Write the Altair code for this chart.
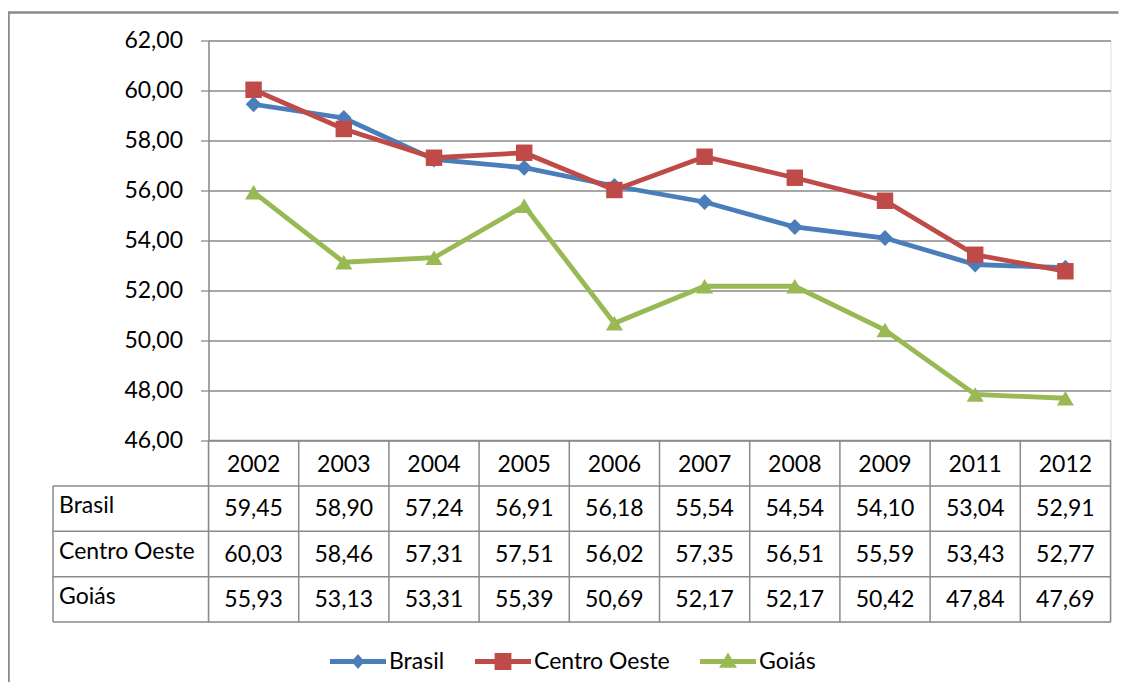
import altair as alt
import pandas as pd

# ---------------- data ----------------
years = ["2002", "2003", "2004", "2005", "2006", "2007", "2008", "2009", "2011", "2012"]
series = ["Brasil", "Centro Oeste", "Goiás"]
brasil = [59.45, 58.90, 57.24, 56.91, 56.18, 55.54, 54.54, 54.10, 53.04, 52.91]
centro_oeste = [60.03, 58.46, 57.31, 57.51, 56.02, 57.35, 56.51, 55.59, 53.43, 52.77]
goias = [55.93, 53.13, 53.31, 55.39, 50.69, 52.17, 52.17, 50.42, 47.84, 47.69]
y_ticks = [46, 48, 50, 52, 54, 56, 58, 60, 62]

# ---------------- styles / layout ----------------
colors = ["#4a7ebb", "#be4b48", "#98b954"]
GRAY = "#8a8a8a"
FONT = "Lato"
FS = 23
W, H_PLOT, H = 902, 400, 581.5
LABEL_COL = -1.724   # left border of the table's label column (in column units)
LABEL_TXT = -1.657   # start of the row labels (in column units)

legend_paths = [
    "M-1,-0.085 L1,-0.085 L1,0.085 L-1,0.085 Z M-0.23,0 L0,-0.27 L0.23,0 L0,0.27 Z",
    "M-1,-0.085 L1,-0.085 L1,0.085 L-1,0.085 Z M-0.3,-0.3 L0.3,-0.3 L0.3,0.3 L-0.3,0.3 Z",
    "M-1,-0.085 L1,-0.085 L1,0.085 L-1,0.085 Z M0,-0.32 L0.32,0.22 L-0.32,0.22 Z",
]

values_by_series = [brasil, centro_oeste, goias]

def fmt(v):
    return f"{v:.2f}".replace(".", ",")

rows = []
for s, vals in zip(series, values_by_series):
    for i, (yr, v) in enumerate(zip(years, vals)):
        rows.append({"series": s, "year": yr, "xc": i + 0.5, "value": v})
df_lines = pd.DataFrame(rows)

cells = []
for i, yr in enumerate(years):
    cells.append({"text": yr, "xc": i + 0.5, "row": 0.55})
for r, vals in enumerate(values_by_series, start=1):
    for i, v in enumerate(vals):
        cells.append({"text": fmt(v), "xc": i + 0.5, "row": r + 0.52})
df_cells = pd.DataFrame(cells)

df_rowlab = pd.DataFrame({"text": series, "xc": [LABEL_TXT] * 3,
                          "row": [1.45, 2.45, 3.45]})

vl = [{"x": i, "y0": 0, "y1": 4} for i in range(11)]
vl.append({"x": LABEL_COL, "y0": 1, "y1": 4})
df_vlines = pd.DataFrame(vl)
hl = [{"y": r, "x0": (0 if r == 0 else LABEL_COL), "x1": 10} for r in range(5)]
df_hlines = pd.DataFrame(hl)

# ---------------- scales ----------------
xscale = alt.Scale(domain=[0, 10], nice=False, zero=False)
yscale = alt.Scale(domain=[46, 62], range=[H_PLOT, 0], nice=False, zero=False)
tscale = alt.Scale(domain=[0, 4], range=[H_PLOT, H], nice=False, zero=False)

def cscale():
    return alt.Scale(domain=series, range=colors)

yaxis = alt.Axis(values=y_ticks,
                 labelExpr="replace(format(datum.value, '.2f'), '.', ',')",
                 grid=True, gridColor=GRAY, gridWidth=1.3,
                 domainColor=GRAY, domainWidth=1.5,
                 tickColor=GRAY, tickSize=8, tickWidth=1.3,
                 labelFont=FONT, labelFontSize=FS, labelColor="black",
                 labelPadding=18, title=None)

X = alt.X("xc:Q", scale=xscale, axis=None)
Y = alt.Y("value:Q", scale=yscale, axis=yaxis)

base = alt.Chart(df_lines)

lines = base.mark_line(strokeWidth=4.8).encode(
    x=X, y=Y, color=alt.Color("series:N", scale=cscale(), legend=None))

markers = base.mark_point(filled=True, opacity=1, strokeWidth=0).encode(
    x=X, y=Y,
    color=alt.Color("series:N", scale=cscale(), legend=None),
    shape=alt.Shape("series:N", scale=alt.Scale(domain=series,
                    range=["diamond", "square", "triangle-up"]), legend=None),
    size=alt.Size("series:N", scale=alt.Scale(domain=series, range=[250, 290, 340]),
                  legend=None),
)

leg = alt.Legend(orient="none", legendX=121.5, legendY=593, direction="horizontal",
                 title=None, labelFont=FONT, labelFontSize=FS, labelColor="black",
                 symbolSize=3136, symbolStrokeWidth=0, symbolOpacity=1,
                 labelOffset=3, columnPadding=30, padding=0)

legend_layer = base.mark_point(filled=True, opacity=0, size=3136).encode(
    x=X, y=Y,
    color=alt.Color("series:N", scale=cscale(), legend=leg),
    shape=alt.Shape("series:N", scale=alt.Scale(domain=series, range=legend_paths),
                    legend=leg),
)

plot = alt.layer(lines, markers, legend_layer).resolve_scale(
    shape="independent", color="independent", size="independent")

# ---------------- table ----------------
vrules = alt.Chart(df_vlines).mark_rule(color=GRAY, strokeWidth=1.5).encode(
    x=alt.X("x:Q", scale=xscale, axis=None),
    y=alt.Y("y0:Q", scale=tscale, axis=None), y2="y1:Q")
hrules = alt.Chart(df_hlines).mark_rule(color=GRAY, strokeWidth=1.5).encode(
    x=alt.X("x0:Q", scale=xscale, axis=None), x2="x1:Q",
    y=alt.Y("y:Q", scale=tscale, axis=None))
ctext = alt.Chart(df_cells).mark_text(font=FONT, fontSize=FS, color="black",
                                      align="center", baseline="middle").encode(
    x=alt.X("xc:Q", scale=xscale, axis=None),
    y=alt.Y("row:Q", scale=tscale, axis=None), text="text:N")
rtext = alt.Chart(df_rowlab).mark_text(font=FONT, fontSize=FS, color="black",
                                       align="left", baseline="middle").encode(
    x=alt.X("xc:Q", scale=xscale, axis=None),
    y=alt.Y("row:Q", scale=tscale, axis=None), text="text:N")
table = alt.layer(vrules, hrules, ctext, rtext)

# ---------------- outer frame (decoration) ----------------
frame_df = pd.DataFrame({"k": [0]})
frame_left = alt.Chart(frame_df).mark_rule(color=GRAY, strokeWidth=2.5).encode(
    x=alt.value(-200), y=alt.value(-28), y2=alt.value(700))
frame_top = alt.Chart(frame_df).mark_rule(color=GRAY, strokeWidth=2.5).encode(
    x=alt.value(-201), x2=alt.value(W + 8), y=alt.value(-28))

chart = alt.layer(plot, table, frame_left, frame_top).resolve_scale(
    y="independent"
).properties(
    width=W, height=H,
    padding={"left": 200.5, "top": 32.5, "right": 8.5, "bottom": 60},
    autosize=alt.AutoSizeParams(type="none"),
    background="white",
).configure_view(stroke=None).configure(font=FONT)

chart.save("out.html", embed_options={"renderer": "svg", "actions": False})
